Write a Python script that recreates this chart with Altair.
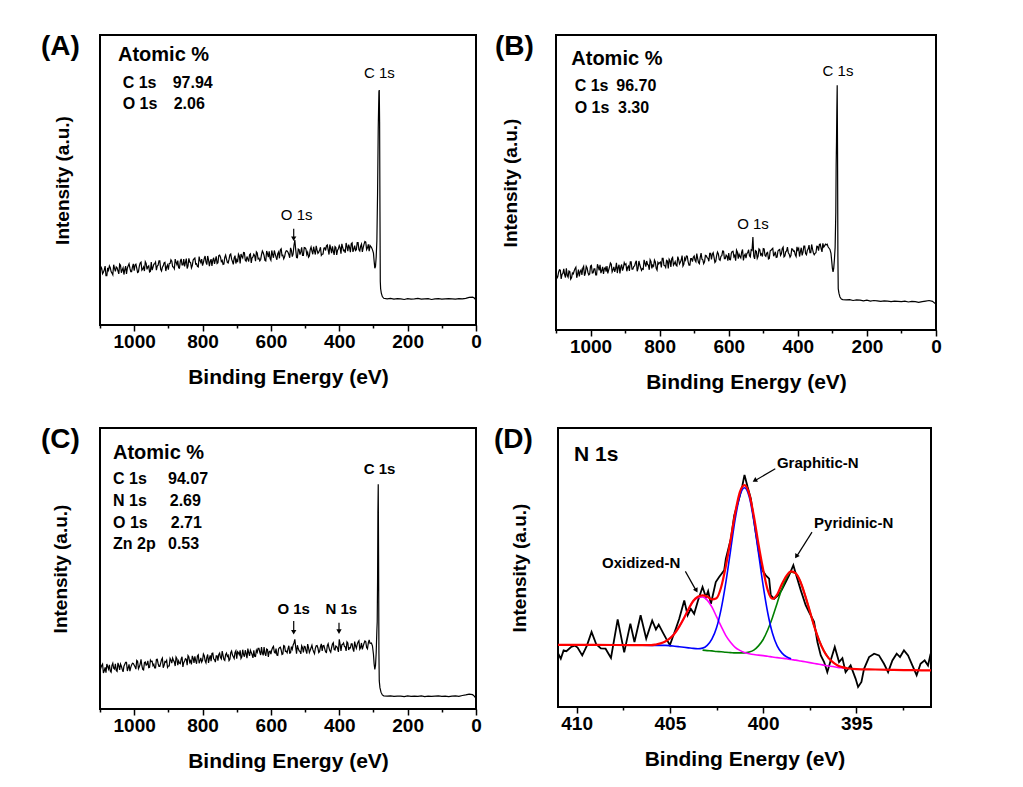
import altair as alt
import pandas as pd

FONT = "Liberation Sans"

# ---------------- survey spectra (A, B, C) ----------------
SURVEY_GRID_E = list(range(1100, 309, -5))            # 1100 ... 310 eV
SURVEY_MID_E = [e - 2.5 for e in range(1100, 314, -5)]  # 1097.5 ... 312.5 eV

A_GRID_I = [
    17.3, 19.5, 18.2, 20.3, 17.0, 18.9, 19.8, 17.9, 20.8, 18.5,
    19.7, 17.6, 20.6, 19.0, 17.4, 20.3, 19.6, 21.1, 18.4, 20.0,
    18.7, 21.0, 18.1, 20.3, 21.7, 19.3, 18.6, 21.2, 20.1, 18.3,
    21.7, 19.9, 21.1, 18.9, 20.6, 22.1, 18.6, 20.4, 21.6, 20.0,
    19.1, 21.2, 22.0, 20.0, 22.7, 20.8, 19.7, 22.0, 20.7, 22.7,
    21.6, 19.5, 23.0, 21.5, 20.5, 22.8, 21.0, 20.2, 23.6, 21.5,
    20.5, 23.0, 21.7, 23.8, 20.3, 22.7, 22.4, 21.1, 23.7, 21.5,
    24.1, 21.9, 20.9, 23.3, 22.8, 21.4, 24.2, 22.7, 20.9, 23.9,
    22.5, 24.4, 21.2, 23.6, 25.0, 22.3, 23.6, 21.9, 24.5, 23.2,
    24.4, 22.0, 24.8, 23.0, 22.6, 25.5, 23.9, 22.1, 24.6, 25.4,
    22.3, 24.3, 25.7, 23.4, 24.6, 23.0, 26.3, 24.0, 23.5, 25.6,
    25.1, 23.2, 25.7, 24.5, 29.3, 23.3, 26.2, 24.3, 26.8, 24.0,
    26.6, 24.3, 23.4, 26.0, 25.5, 27.0, 24.3, 25.9, 25.1, 26.8,
    24.4, 26.5, 25.7, 27.6, 24.3, 26.3, 27.1, 24.2, 26.7, 25.8,
    27.4, 24.6, 26.8, 25.8, 28.3, 25.5, 26.8, 28.0, 25.2, 27.4,
    26.0, 28.4, 25.5, 27.9, 26.7, 28.8, 26.0, 27.8, 27.4,
]
A_MID_I = [
    20.2, 17.7, 19.0, 17.0, 19.7, 20.4, 18.4, 17.3, 19.5, 20.0,
    18.7, 21.0, 18.0, 19.7, 19.1, 17.6, 20.4, 19.6, 18.4, 21.1,
    20.7, 19.6, 18.3, 21.4, 18.9, 20.0, 21.8, 19.2, 20.4, 18.5,
    18.9, 21.0, 21.7, 20.3, 22.1, 19.2, 19.9, 21.4, 18.6, 20.7,
    21.2, 22.5, 20.1, 19.4, 21.6, 22.2, 19.6, 22.8, 20.7, 20.2,
    22.9, 20.4, 21.7, 19.7, 22.4, 23.1, 21.1, 20.0, 22.2, 22.7,
    21.5, 23.8, 20.8, 22.5, 21.9, 20.4, 23.2, 22.4, 21.2, 23.9,
    23.4, 22.3, 21.0, 24.1, 21.6, 22.7, 24.5, 21.9, 23.1, 21.2,
    21.7, 23.8, 24.5, 23.1, 24.9, 22.0, 22.7, 24.2, 21.4, 23.5,
    23.9, 25.2, 22.8, 22.1, 24.3, 24.9, 22.3, 25.5, 23.4, 22.9,
    25.7, 23.2, 24.5, 22.5, 25.2, 25.9, 23.9, 22.8, 25.0, 25.5,
    24.3, 26.6, 23.6, 27.5, 26.0, 23.2, 26.0, 25.2, 24.0, 26.7,
    26.2, 25.1, 23.8, 26.9, 24.4, 25.5, 27.3, 24.7, 25.9, 24.0,
    24.5, 26.6, 27.3, 25.9, 27.7, 24.8, 25.5, 27.0, 24.2, 26.3,
    26.7, 28.0, 25.6, 24.9, 27.1, 27.7, 25.1, 28.3, 26.2, 25.7,
    28.4, 25.9, 27.2, 25.2, 27.9, 28.6, 26.6, 25.5,
]
A_PEAK_E = [306, 303, 300, 298, 296, 294, 292, 290, 288, 286, 284, 283, 282, 281, 280, 279, 277, 274, 270]
A_PEAK_I = [26.8, 26.0, 24.8, 22.0, 19.6, 20.2, 23.5, 29.0, 45.0, 68.0, 80.5, 81.0, 70.0, 40.0, 15.0, 12.5, 11.0, 9.8, 9.2]

B_GRID_I = [
    19.7, 18.0, 20.4, 17.3, 19.2, 18.8, 20.9, 17.9, 19.8, 17.7,
    19.0, 20.8, 17.7, 20.5, 19.8, 18.7, 21.6, 19.3, 21.0, 18.7,
    21.7, 19.3, 20.7, 18.7, 22.3, 20.2, 19.3, 21.4, 20.8, 19.8,
    19.2, 21.4, 22.3, 20.4, 19.7, 22.8, 21.2, 19.2, 22.2, 21.1,
    22.1, 19.9, 21.7, 23.1, 20.6, 21.5, 22.8, 19.9, 23.4, 21.2,
    20.8, 23.8, 21.5, 22.2, 20.4, 23.2, 22.0, 23.7, 20.9, 22.9,
    22.8, 21.2, 24.3, 21.8, 23.6, 20.9, 23.5, 24.2, 22.0, 23.2,
    21.7, 23.9, 23.0, 25.2, 22.3, 23.7, 25.0, 22.0, 24.2, 23.2,
    25.1, 23.1, 24.3, 22.5, 26.1, 23.8, 23.1, 25.2, 24.3, 26.0,
    23.9, 26.2, 22.9, 25.2, 25.8, 23.6, 25.2, 26.7, 24.2, 25.0,
    26.1, 23.8, 26.6, 24.8, 23.5, 26.5, 25.7, 24.4, 27.3, 25.2,
    24.4, 26.2, 25.2, 27.2, 31.5, 24.1, 26.7, 25.0, 27.2, 25.8,
    27.6, 25.3, 26.1, 24.1, 26.8, 27.4, 25.0, 26.5, 24.7, 27.1,
    25.3, 27.6, 24.8, 26.5, 28.1, 25.7, 25.2, 27.4, 26.8, 24.9,
    27.1, 24.9, 27.9, 26.4, 28.4, 25.5, 27.5, 26.2, 29.0, 26.2,
    26.0, 28.4, 26.9, 29.1, 26.5, 28.1, 29.1, 29.1, 27.8,
]
B_MID_I = [
    17.5, 19.6, 20.3, 18.9, 20.7, 17.8, 18.5, 20.0, 17.2, 19.3,
    20.0, 21.3, 18.9, 18.2, 20.4, 21.0, 18.4, 21.6, 19.5, 19.0,
    21.9, 19.4, 20.7, 18.7, 21.4, 22.1, 20.1, 19.0, 21.2, 21.7,
    20.4, 22.7, 19.7, 21.4, 20.8, 19.3, 22.1, 21.3, 20.1, 22.8,
    22.4, 21.3, 20.0, 23.1, 20.6, 21.7, 23.5, 20.9, 22.1, 20.2,
    20.6, 22.7, 23.4, 22.0, 23.8, 20.9, 21.6, 23.1, 20.3, 22.4,
    23.0, 24.3, 21.9, 21.2, 23.4, 24.0, 21.4, 24.6, 22.5, 22.0,
    24.9, 22.4, 23.7, 21.7, 24.4, 25.1, 23.1, 22.0, 24.2, 24.7,
    23.6, 25.9, 22.9, 24.6, 24.0, 22.5, 25.3, 24.5, 23.3, 26.0,
    25.7, 24.6, 23.3, 26.4, 23.9, 25.0, 26.8, 24.2, 25.4, 23.5,
    23.9, 26.0, 26.7, 25.3, 27.1, 24.2, 24.9, 26.4, 23.6, 25.7,
    25.9, 27.2, 24.8, 27.0, 25.0, 26.9, 24.3, 27.5, 25.4, 24.9,
    27.5, 25.0, 26.3, 24.3, 27.0, 27.7, 25.7, 24.6, 26.8, 27.3,
    25.8, 28.1, 25.1, 26.8, 26.2, 24.7, 27.5, 26.7, 25.5, 28.2,
    27.7, 26.6, 25.3, 28.4, 25.9, 27.0, 28.8, 26.2, 27.4, 25.5,
    26.2, 28.3, 29.0, 27.6, 29.4, 28.5, 28.9, 28.2,
]
B_PEAK_E = [307, 304, 302, 300, 298, 296, 294, 292, 290, 289, 288, 287, 286, 285, 284, 283, 281, 278, 274, 270]
B_PEAK_I = [27.3, 26.0, 23.5, 21.0, 19.7, 21.0, 24.0, 28.0, 40.0, 56.0, 64.0, 75.0, 83.0, 60.0, 25.0, 14.0, 12.5, 11.2, 10.5, 10.3]

C_GRID_I = [
    13.4, 15.5, 12.8, 14.8, 16.0, 14.2, 13.5, 15.5, 14.5, 16.1,
    13.4, 15.4, 16.0, 14.1, 15.2, 16.6, 13.5, 15.9, 14.8, 16.3,
    15.6, 14.2, 17.0, 15.0, 17.7, 14.1, 16.5, 15.6, 17.1, 14.8,
    16.9, 15.4, 14.6, 17.6, 16.2, 15.2, 17.5, 14.7, 16.9, 17.3,
    15.3, 18.0, 16.3, 17.3, 15.3, 17.9, 17.1, 16.1, 18.6, 16.5,
    17.9, 15.6, 18.5, 17.2, 18.9, 16.4, 17.2, 18.9, 16.3, 18.2,
    17.3, 19.0, 16.4, 19.4, 18.0, 17.0, 19.9, 17.6, 18.9, 17.2,
    19.9, 17.8, 19.1, 17.3, 19.9, 19.1, 17.7, 20.6, 18.6, 20.1,
    17.9, 20.0, 20.9, 18.6, 19.4, 20.9, 18.1, 20.1, 20.9, 19.3,
    20.9, 18.7, 20.2, 21.6, 19.2, 19.9, 22.0, 18.9, 21.1, 20.4,
    19.5, 21.9, 20.2, 21.5, 19.1, 21.8, 21.0, 19.6, 22.4, 20.6,
    21.5, 19.9, 22.2, 22.8, 24.8, 19.7, 21.5, 20.5, 22.5, 20.1,
    22.2, 19.7, 21.8, 20.9, 22.7, 20.4, 21.6, 22.6, 20.1, 22.2,
    20.7, 22.6, 20.3, 22.5, 21.7, 20.2, 23.1, 21.2, 22.4, 21.6,
    24.8, 20.7, 23.0, 22.3, 20.7, 23.5, 21.8, 23.2, 21.4, 24.0,
    21.6, 23.8, 21.3, 23.5, 22.4, 24.2, 21.9, 23.5, 23.3,
]
C_MID_I = [
    14.7, 16.0, 13.6, 12.9, 15.1, 15.7, 13.1, 16.3, 14.2, 13.7,
    16.4, 13.9, 15.2, 13.2, 15.9, 16.6, 14.6, 13.5, 15.7, 16.2,
    15.0, 17.3, 14.3, 16.0, 15.4, 13.9, 16.7, 15.9, 14.7, 17.4,
    17.0, 15.9, 14.6, 17.7, 15.2, 16.3, 18.1, 15.5, 16.7, 14.8,
    15.3, 17.4, 18.1, 16.7, 18.5, 15.6, 16.3, 17.8, 15.0, 17.1,
    17.7, 19.0, 16.6, 15.9, 18.1, 18.7, 16.1, 19.3, 17.2, 16.7,
    19.6, 17.1, 18.4, 16.4, 19.1, 19.8, 17.8, 16.7, 18.9, 19.4,
    18.3, 20.6, 17.6, 19.3, 18.7, 17.2, 20.0, 19.2, 18.0, 20.7,
    20.4, 19.3, 18.0, 21.1, 18.6, 19.7, 21.5, 18.9, 20.1, 18.2,
    18.8, 20.9, 21.6, 20.2, 22.0, 19.1, 19.8, 21.3, 18.5, 20.6,
    21.0, 22.3, 19.9, 19.2, 21.4, 22.0, 19.4, 22.6, 20.5, 20.0,
    22.5, 20.0, 21.3, 23.5, 22.0, 22.7, 20.7, 19.6, 21.8, 22.3,
    20.8, 23.1, 20.1, 21.8, 21.2, 19.7, 22.5, 21.7, 20.5, 23.2,
    22.5, 21.4, 20.1, 23.2, 20.7, 21.8, 23.6, 21.0, 22.2, 20.3,
    23.0, 22.8, 23.5, 22.1, 23.9, 21.0, 21.7, 23.2, 20.4, 22.5,
    23.0, 24.3, 21.9, 21.2, 23.4, 24.0, 21.4, 24.6,
]
C_PEAK_E = [306, 303, 300, 298, 296, 294, 292, 290, 289, 288, 287, 286, 285, 284, 283, 281, 278, 274, 270]
C_PEAK_I = [23.5, 22.5, 19.5, 16.0, 14.1, 15.5, 20.0, 28.0, 31.0, 45.0, 70.0, 80.0, 55.0, 20.0, 10.0, 7.6, 6.0, 5.0, 4.7]

TAIL_E = [260, 250, 240, 230, 220, 210, 200, 190, 180, 170, 160, 150, 140, 130,
          120, 110, 100, 90, 80, 70, 60, 50, 40, 30, 20, 10, 5, 0]
A_TAIL_I = [9.0, 9.2, 8.9, 9.1, 9.0, 8.8, 9.1, 8.9, 9.0, 9.2, 8.9, 9.0, 9.1, 8.8,
            9.0, 9.1, 8.9, 9.0, 9.1, 9.0, 8.9, 9.1, 9.0, 9.2, 9.5, 9.6, 9.3, 8.6]
B_TAIL_I = [10.2, 10.3, 10.0, 10.2, 10.1, 9.9, 10.1, 9.8, 10.0, 9.9, 9.7, 9.9, 9.8, 9.6,
            9.8, 9.7, 9.6, 9.8, 9.5, 9.7, 9.6, 9.4, 9.6, 9.8, 10.0, 9.7, 9.2, 8.8]
C_TAIL_I = [4.6, 4.7, 4.5, 4.6, 4.6, 4.4, 4.7, 4.5, 4.6, 4.5, 4.7, 4.4, 4.6, 4.5,
            4.6, 4.7, 4.5, 4.6, 4.4, 4.6, 4.7, 4.5, 4.8, 5.0, 5.3, 5.1, 4.6, 3.8]

# ---------------- N 1s high-resolution (D) ----------------
D_RAW_E = [410.98, 410.85, 410.7, 410.55, 410.3, 410.1, 409.95, 409.7, 409.45, 409.2,
           408.95, 408.7, 408.45, 408.16, 407.8, 407.45, 407.12, 406.9, 406.57, 406.27,
           405.95, 405.75, 405.6, 405.36, 405.2, 405.0, 404.85, 404.68, 404.5, 404.23,
           404.05, 403.88, 403.7, 403.5, 403.25, 403.07, 402.95, 402.8, 402.54, 402.36,
           402.09, 402.0, 401.73, 401.55, 401.29, 401.11, 401.0, 400.84, 400.66, 400.4,
           400.2, 400.04, 399.86, 399.68, 399.59, 399.41, 399.2, 399.0, 398.79, 398.61,
           398.38, 398.25, 397.98, 397.72, 397.54, 397.27, 397.09, 396.91, 396.73, 396.56,
           396.38, 396.16, 395.93, 395.75, 395.58, 395.31, 395.04, 394.91, 394.73, 394.59,
           394.32, 394.05, 393.79, 393.52, 393.3, 393.07, 392.84, 392.66, 392.45, 392.23,
           392.0, 391.77, 391.56, 391.34, 391.16, 391.02]
D_RAW_I = [19.0, 17.3, 20.3, 20.0, 21.5, 22.0, 21.3, 18.5, 22.0, 26.9,
           22.5, 21.0, 20.9, 17.6, 31.4, 19.6, 29.9, 23.3, 32.9, 24.5,
           31.0, 27.8, 29.5, 26.5, 24.5, 22.2, 25.0, 28.1, 31.6, 38.2,
           32.9, 35.2, 33.4, 38.0, 43.0, 39.4, 41.5, 37.0, 44.8, 46.6,
           49.0, 53.2, 60.3, 68.7, 74.7, 79.5, 83.2, 79.0, 74.7, 62.7,
           54.4, 49.0, 47.2, 46.0, 40.0, 38.8, 40.0, 42.0, 44.8, 47.2,
           50.8, 47.8, 41.8, 36.5, 34.0, 30.5, 23.3, 18.5, 16.1, 12.5,
           16.7, 21.5, 16.1, 17.5, 12.5, 14.9, 10.1, 7.2, 9.0, 13.7,
           17.9, 19.1, 18.5, 15.5, 12.5, 16.7, 19.1, 17.9, 20.3, 18.5,
           14.9, 11.4, 15.5, 16.7, 14.9, 19.1]

FIT_E = [411, 409, 407, 406, 405.75,
         405.5, 405.25, 405.0, 404.75, 404.5, 404.25, 404.0, 403.75, 403.5, 403.25,
         403.0, 402.75, 402.5, 402.25, 402.0, 401.75, 401.5, 401.25, 401.0, 400.75,
         400.5, 400.25, 400.0, 399.75, 399.5, 399.25, 399.0, 398.75, 398.5, 398.25,
         398.0, 397.75, 397.5, 397.25, 397.0, 396.75, 396.5, 396.25, 396.0, 395.75,
         395.5, 395, 394, 393, 392, 391]
FIT_I = [22.3, 22.25, 22.2, 22.15, 22.4,
         22.8, 23.5, 24.6, 26.3, 28.8, 31.8, 35.1, 38.0, 39.5, 40.0,
         39.6, 38.6, 39.0, 43.0, 50.5, 59.7, 69.5, 77.0, 79.5, 76.4,
         68.5, 58.4, 49.3, 41.8, 38.8, 40.3, 44.0, 47.0, 48.6, 47.9,
         44.9, 40.0, 34.4, 28.7, 23.9, 20.2, 17.6, 16.0, 14.9, 14.3,
         13.9, 13.6, 13.45, 13.3, 13.2, 13.1]

OXI_E = [405.0, 404.75, 404.5, 404.25, 404.0, 403.75, 403.5, 403.25, 403.0, 402.75,
         402.5, 402.25, 402.0, 401.75, 401.5, 401.25, 401.0, 400.75, 400.5, 400.25,
         400.0, 399.75, 399.5, 399.25, 399.0, 398.75, 398.5, 398.25, 398.0, 397.75,
         397.5, 397.25, 397.0, 396.75, 396.5, 396.25, 396.0, 395.75, 395.5]
OXI_I = [24.6, 26.3, 28.8, 31.8, 35.1, 37.9, 39.2, 39.4, 38.3, 35.9,
         32.4, 28.9, 25.6, 23.2, 21.4, 20.3, 19.5, 19.1, 18.8, 18.6,
         18.4, 18.2, 17.9, 17.7, 17.5, 17.3, 17.0, 16.8, 16.5, 16.2,
         15.9, 15.6, 15.3, 15.0, 14.7, 14.5, 14.2, 14.0, 13.8]

GRA_E = [406.5, 406.0, 405.5, 405.25, 405.0, 404.75, 404.5, 404.25, 404.0, 403.75,
         403.5, 403.25, 403.0, 402.75, 402.5, 402.25, 402.0, 401.75, 401.5, 401.25,
         401.0, 400.75, 400.5, 400.25, 400.0, 399.75, 399.5, 399.25, 399.0, 398.75, 398.5]
GRA_I = [22.15, 22.1, 22.1, 22.1, 22.0, 21.8, 21.6, 21.4, 21.2, 21.0,
         20.9, 21.1, 22.1, 24.3, 28.4, 35.2, 44.7, 56.0, 67.3, 75.7,
         78.6, 75.4, 66.7, 55.2, 43.5, 33.6, 26.4, 21.9, 19.4, 18.0, 17.3]

PYR_E = [403.25, 403.0, 402.75, 402.5, 402.25, 402.0, 401.75, 401.5, 401.25, 401.0,
         400.75, 400.5, 400.25, 400.0, 399.75, 399.5, 399.25, 399.0, 398.75, 398.5,
         398.25, 398.0, 397.75, 397.5, 397.25, 397.0, 396.75, 396.5]
PYR_I = [20.4, 20.2, 20.1, 19.9, 19.8, 19.6, 19.5, 19.4, 19.4, 19.4,
         19.7, 20.4, 21.9, 24.2, 27.7, 32.1, 37.2, 42.3, 46.4, 48.3,
         47.8, 44.9, 40.0, 34.4, 28.7, 23.9, 20.2, 17.6]


# ---------------- helpers ----------------
def survey_x():
    return alt.X("E:Q", scale=alt.Scale(domain=[1100, 0], nice=False, zero=False),
                 axis=alt.Axis(title="Binding Energy (eV)", values=list(range(0, 1101, 100)),
                               format="d",
                               labelExpr="datum.value % 200 == 0 ? format(datum.value, 'd') : ''",
                               tickSize={"condition": {"test": "datum.value % 200 == 0", "value": 6}, "value": 3},
                               labelFlush=False, labelOverlap=False))


def d_x():
    return alt.X("E:Q", scale=alt.Scale(domain=[411, 391], nice=False, zero=False),
                 axis=alt.Axis(title="Binding Energy (eV)",
                               values=[392.5, 395, 397.5, 400, 402.5, 405, 407.5, 410],
                               labelExpr="datum.value % 5 == 0 ? format(datum.value, 'd') : ''",
                               tickSize={"condition": {"test": "datum.value % 5 == 0", "value": 6}, "value": 3},
                               labelFlush=False, labelOverlap=False))


def make_y(pad):
    return alt.Y("I:Q", scale=alt.Scale(domain=[0, 100], nice=False, zero=False),
                 axis=alt.Axis(title="Intensity (a.u.)", labels=False, ticks=False,
                               domain=False, grid=False, titlePadding=pad))


def text_layer(rows, X, Y, size, weight, align="left"):
    df = pd.DataFrame(rows, columns=["text", "E", "I"])
    return alt.Chart(df).mark_text(align=align, baseline="middle", font=FONT,
                                   fontSize=size, fontWeight=weight, color="black").encode(
        x=X, y=Y, text="text:N")


def arrow_layers(rows, X, Y):
    df = pd.DataFrame(rows, columns=["E", "I", "E2", "I2", "HE", "HI", "ang"])
    rule = alt.Chart(df).mark_rule(color="black", strokeWidth=1.2).encode(
        x=X, y=Y, x2="E2:Q", y2="I2:Q")
    heads = pd.DataFrame({"E": df["HE"], "I": df["HI"], "ang": df["ang"]})
    head = alt.Chart(heads).mark_point(shape="triangle", filled=True, size=28,
                                       color="black", opacity=1).encode(
        x=X, y=Y, angle=alt.Angle("ang:Q", scale=None))
    return [rule, head]


def letter_layer(letter, dx):
    # panel letter placed to the upper left of the frame
    return alt.Chart(pd.DataFrame({"t": [letter]})).mark_text(
        align="left", baseline="middle", font=FONT, fontSize=28, fontWeight="bold",
        color="black").encode(x=alt.value(dx), y=alt.value(12), text="t:N")


def survey_panel(grid_i, mid_i, peak_e, peak_i, tail_i, info, values, peaks, peak_bold,
                 arrows, letter, dx, w, h, ypad):
    X = survey_x()
    Y = make_y(ypad)
    df = pd.DataFrame({"E": SURVEY_GRID_E + SURVEY_MID_E + peak_e + TAIL_E,
                       "I": grid_i + mid_i + peak_i + tail_i})
    line = alt.Chart(df).mark_line(color="black", strokeWidth=1.2).encode(x=X, y=Y)
    layers = [line,
              text_layer([info], X, Y, 20, "bold"),
              text_layer(values, X, Y, 16, "bold"),
              text_layer(peaks, X, Y, 15, "bold" if peak_bold else "normal", align="center")]
    if arrows:
        layers += arrow_layers(arrows, X, Y)
    layers.append(letter_layer(letter, dx))
    return alt.layer(*layers).properties(width=w, height=h)


A = survey_panel(A_GRID_I, A_MID_I, A_PEAK_E, A_PEAK_I, A_TAIL_I,
                 ("Atomic %", 1047.3, 93.1),
                 [("C 1s", 1033.6, 83.4), ("97.94", 887.3, 83.4),
                  ("O 1s", 1033.6, 76.3), ("2.06", 884.4, 76.3)],
                 [("C 1s", 282.8, 86.9), ("O 1s", 524.5, 37.8)], False,
                 [(533.3, 33.2, 533.3, 30.2, 533.3, 30.0, 180)],
                 "(A)", -59, 376, 290, 28)

B = survey_panel(B_GRID_I, B_MID_I, B_PEAK_E, B_PEAK_I, B_TAIL_I,
                 ("Atomic %", 1055.7, 92.0),
                 [("C 1s", 1045.9, 82.7), ("96.70", 925.5, 82.7),
                  ("O 1s", 1045.9, 75.3), ("3.30", 920.5, 75.3)],
                 [("C 1s", 283.8, 87.7), ("O 1s", 529.8, 36.0)], False,
                 None,
                 "(B)", -61, 380, 295, 36)

C = survey_panel(C_GRID_I, C_MID_I, C_PEAK_E, C_PEAK_I, C_TAIL_I,
                 ("Atomic %", 1062, 91.0),
                 [("C 1s", 1062, 81.7), ("94.07", 901, 81.7),
                  ("N 1s", 1062, 74.0), ("2.69", 896, 74.0),
                  ("O 1s", 1062, 66.3), ("2.71", 893, 66.3),
                  ("Zn 2p", 1062, 58.8), ("0.53", 901, 58.8)],
                 [("C 1s", 282, 85.5), ("O 1s", 533.3, 35.5), ("N 1s", 394, 35.5)], True,
                 [(533.3, 31.3, 533.3, 27.6, 533.3, 27.6, 180),
                  (400.8, 30.7, 400.8, 27.8, 400.8, 27.8, 180)],
                 "(C)", -59, 376, 281, 30)

# panel D
XD = d_x()
YD = make_y(29)
raw = alt.Chart(pd.DataFrame({"E": D_RAW_E, "I": D_RAW_I})).mark_line(
    color="black", strokeWidth=1.8).encode(x=XD, y=YD)
pyr = alt.Chart(pd.DataFrame({"E": PYR_E, "I": PYR_I})).mark_line(
    color="#008000", strokeWidth=1.6, interpolate="monotone").encode(x=XD, y=YD)
oxi = alt.Chart(pd.DataFrame({"E": OXI_E, "I": OXI_I})).mark_line(
    color="#ff00ff", strokeWidth=1.6, interpolate="monotone").encode(x=XD, y=YD)
gra = alt.Chart(pd.DataFrame({"E": GRA_E, "I": GRA_I})).mark_line(
    color="#0000ff", strokeWidth=1.6, interpolate="monotone").encode(x=XD, y=YD)
fit = alt.Chart(pd.DataFrame({"E": FIT_E, "I": FIT_I})).mark_line(
    color="#ff0000", strokeWidth=2.2, interpolate="monotone").encode(x=XD, y=YD)

D_layers = [raw, pyr, oxi, gra, fit,
            text_layer([("N 1s", 410.14, 90.3)], XD, YD, 21, "bold"),
            text_layer([("Graphitic-N", 399.26, 87.5), ("Pyridinic-N", 397.27, 66.0),
                        ("Oxidized-N", 408.64, 51.7)], XD, YD, 15, "bold")]
D_layers += arrow_layers([(399.35, 85.4, 400.45, 81.1, 400.42, 81.3, 240),
                          (397.38, 62.7, 398.22, 53.8, 398.2, 54.2, 212),
                          (404.17, 48.6, 403.6, 41.8, 403.6, 42.0, 151)], XD, YD)
D_layers.append(letter_layer("(D)", -64))
D = alt.layer(*D_layers).properties(width=373, height=279)

chart = alt.vconcat(
    alt.hconcat(A, B, spacing=11),
    alt.hconcat(C, D, spacing=10),
    spacing=32,
).properties(
    padding={"left": 32, "top": 24, "right": 5, "bottom": 5},
    background="white",
).configure_view(
    stroke="black", strokeWidth=2
).configure_axis(
    labelFont=FONT, labelFontSize=19, labelFontWeight="bold", labelColor="black",
    titleFont=FONT, titleFontSize=21, titleFontWeight="bold", titleColor="black",
    tickColor="black", tickWidth=1.5, grid=False, domain=False,
    labelPadding=1, titlePadding=15,
).configure_axisY(
    titleFontSize=19
)

chart.save("out.html", embed_options={"renderer": "svg", "actions": False})
